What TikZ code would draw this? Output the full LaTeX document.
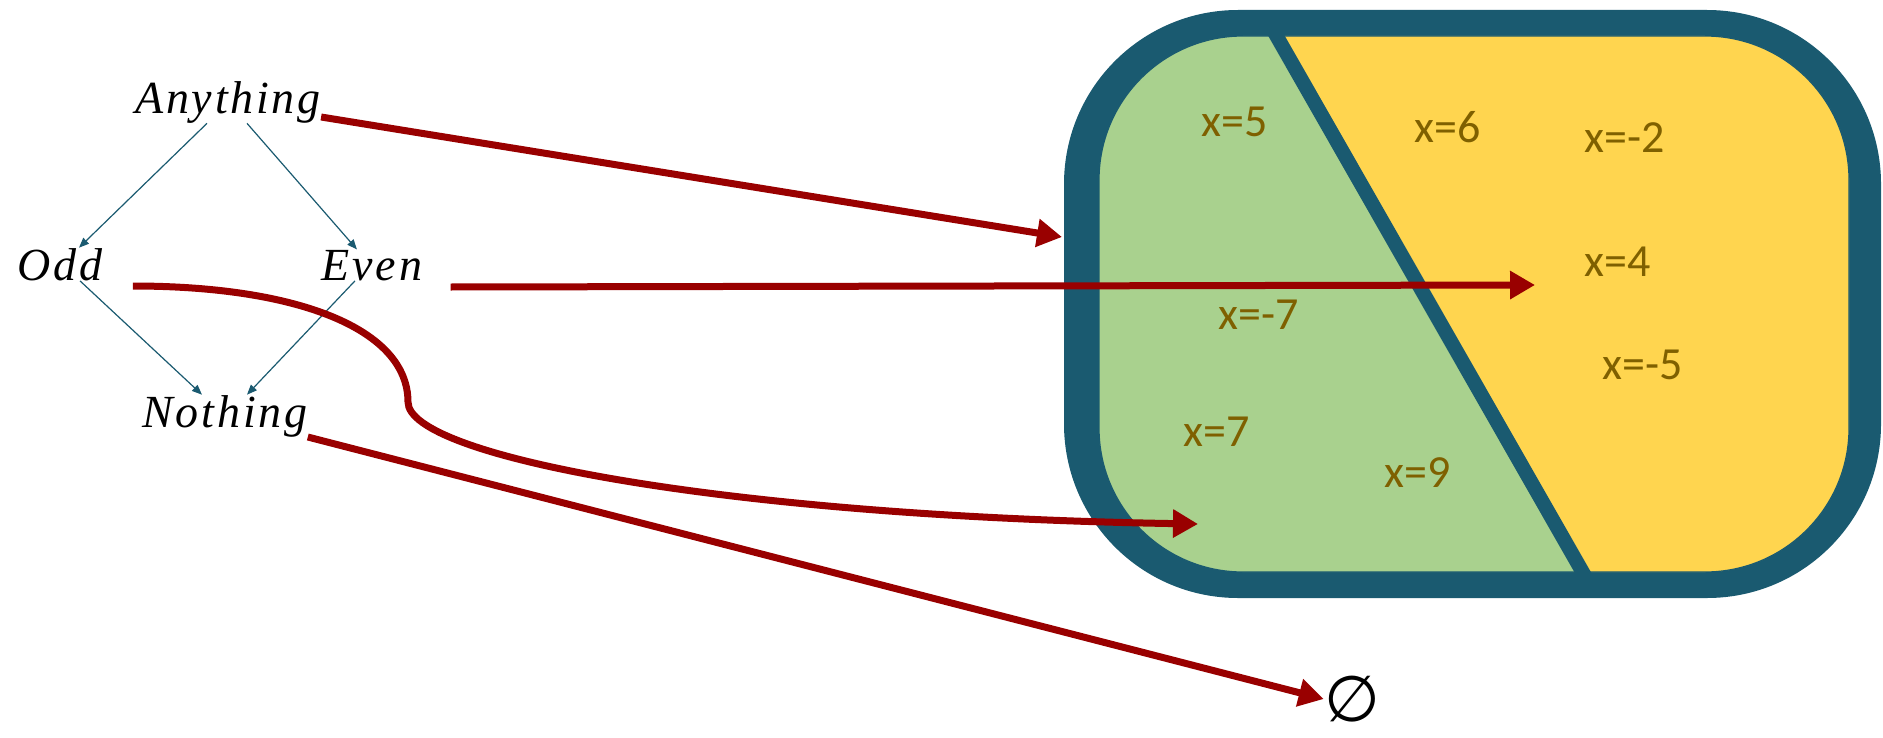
\documentclass[tikz,border=0pt]{standalone}
\usepackage{fontspec}
\usetikzlibrary{arrows.meta}
\newfontfamily\valfont{Carlito}
\newfontfamily\latfont[LetterSpace=6]{Liberation Serif}
\newfontfamily\symfont{DejaVu Sans}

\definecolor{setborder}{HTML}{1A5A70}
\definecolor{setgreen}{HTML}{A9D18E}
\definecolor{setgold}{HTML}{FFD54F}
\definecolor{valtext}{HTML}{7F6000}
\definecolor{mapred}{HTML}{990000}

\tikzset{
  lattice/.style={font=\latfont\itshape\fontsize{23}{27}\selectfont, inner sep=0pt, anchor=base},
  val/.style={font=\valfont\fontsize{23}{27}\selectfont, text=valtext},
  order/.style={draw=setborder, line width=0.6pt, -{Triangle[length=5pt,width=4pt]}},
  mapto/.style={draw=mapred, line width=3.5pt, -{Triangle[length=12.5pt,width=13.5pt]}},
}

\begin{document}
\begin{tikzpicture}[x=0.5pt, y=-0.5pt]
    \useasboundingbox (0,0) rectangle (1883,738);

    % The set of values
    \fill[setborder, rounded corners=87pt] (1064,10) rectangle (1881,598);
    \begin{scope}
        \clip[rounded corners=72pt] (1099,36) rectangle (1849,572);
        \fill[setgreen] (1000,0) rectangle (1900,600);
        \fill[setgold] (1256,0) -- (1900,0) -- (1900,600) -- (1599,600) -- cycle;
    \end{scope}
    \draw[setborder, line width=0.6pt, rounded corners=72pt] (1099,36) rectangle (1849,572);
    \draw[setborder, line width=7.2pt] (1267.4,20) -- (1591.7,588);

    \node[val] (v5) at (1235,122) {x=5};
    \node[val] (v6) at (1448,127) {x=6};
    \node[val] (vm2) at (1625,138) {x=-2};
    \node[val] (v4) at (1618,262) {x=4};
    \node[val] (vm7) at (1259,315) {x=-7};
    \node[val] (vm5) at (1643,365) {x=-5};
    \node[val] (v7) at (1217,432) {x=7};
    \node[val] (v9) at (1418,473) {x=9};

    % The lattice
    \node[lattice] (any) at (228,113) {Anything};
    \node[lattice] (odd) at (60,280) {Odd};
    \node[lattice] (even) at (372,280) {Even};
    \node[lattice] (none) at (225,427) {Nothing};
    \node[font=\symfont\fontsize{32}{36}\selectfont, inner sep=0pt] (empty) at (1352,699) {∅};

    \draw[order] ([xshift=-10.5pt]any.south) -- ([xshift=9.5pt]odd.north);
    \draw[order] ([xshift=9.5pt]any.south) -- ([xshift=-7.5pt]even.north);
    \draw[order] ([xshift=10pt]odd.south) -- ([xshift=-11.5pt]none.north);
    \draw[order] ([xshift=-8.5pt]even.south) -- ([xshift=11pt]none.north);

    % Where each element goes
    \coordinate (setedge) at (1062,237);
    \coordinate (evenpt) at (1535,285);
    \coordinate (oddpt) at (1198,524);

    \draw[mapto] ([yshift=-2pt]any.base east) -- (setedge);
    \draw[mapto] ([xshift=14pt,yshift=-3.5pt]even.base east) -- (evenpt);
    \draw[mapto] ([xshift=15pt,yshift=-3pt]odd.base east)
        .. controls (300,286) and (408,330) .. (408,402)
        .. controls (408,456) and (720,516) .. (oddpt);
    \draw[mapto] ([yshift=-5pt]none.base east) -- ([yshift=0pt]empty.west);
\end{tikzpicture}
\end{document}
